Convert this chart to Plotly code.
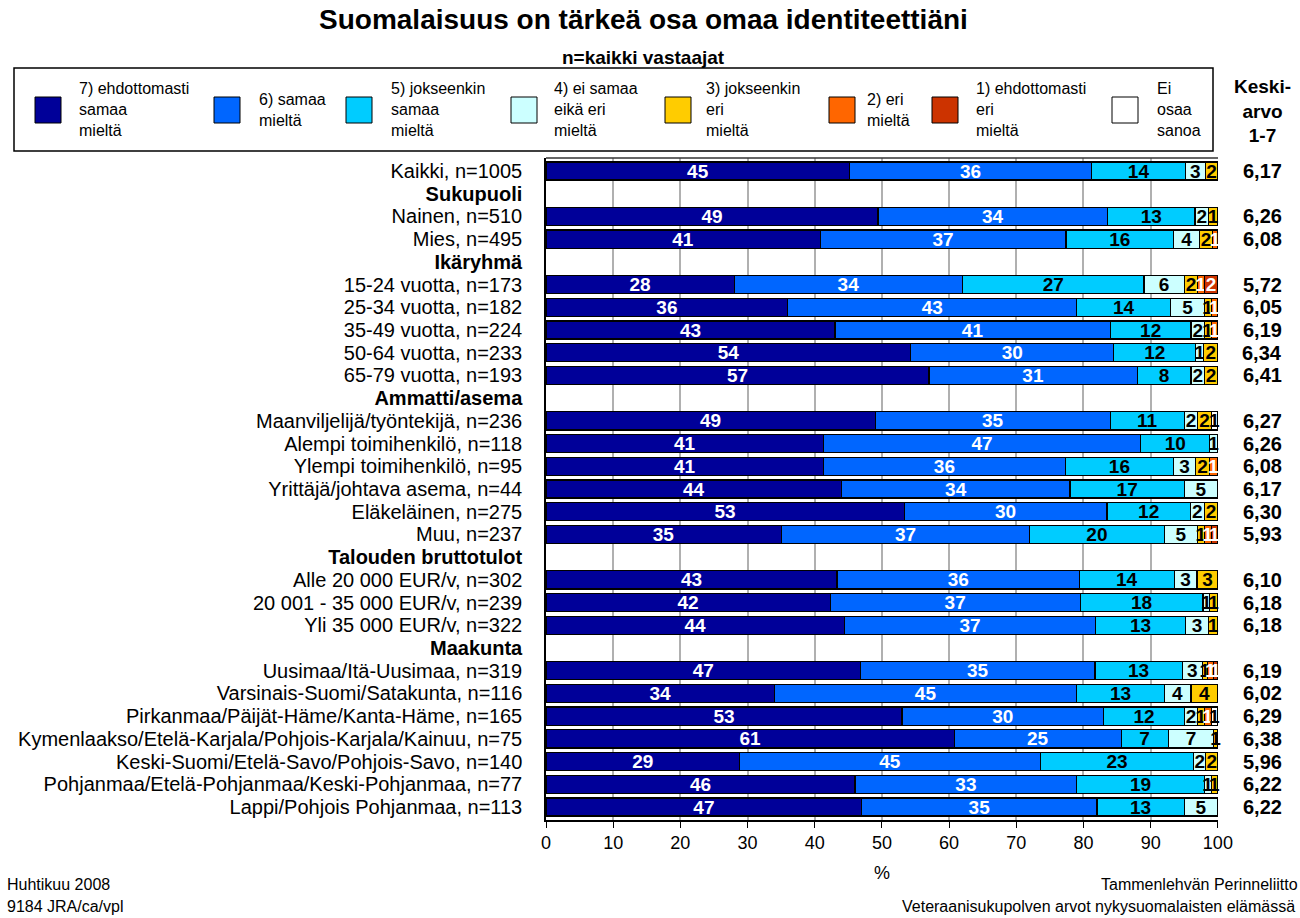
import plotly.graph_objects as go

# ---------------- data ----------------
rows = [
    "Kaikki, n=1005", "<b>Sukupuoli</b>", "Nainen, n=510", "Mies, n=495",
    "<b>Ikäryhmä</b>", "15-24 vuotta, n=173", "25-34 vuotta, n=182", "35-49 vuotta, n=224",
    "50-64 vuotta, n=233", "65-79 vuotta, n=193", "<b>Ammatti/asema</b>",
    "Maanviljelijä/työntekijä, n=236", "Alempi toimihenkilö, n=118", "Ylempi toimihenkilö, n=95",
    "Yrittäjä/johtava asema, n=44", "Eläkeläinen, n=275", "Muu, n=237",
    "<b>Talouden bruttotulot</b>", "Alle 20 000 EUR/v, n=302", "20 001 - 35 000 EUR/v, n=239",
    "Yli 35 000 EUR/v, n=322", "<b>Maakunta</b>", "Uusimaa/Itä-Uusimaa, n=319",
    "Varsinais-Suomi/Satakunta, n=116", "Pirkanmaa/Päijät-Häme/Kanta-Häme, n=165",
    "Kymenlaakso/Etelä-Karjala/Pohjois-Karjala/Kainuu, n=75",
    "Keski-Suomi/Etelä-Savo/Pohjois-Savo, n=140",
    "Pohjanmaa/Etelä-Pohjanmaa/Keski-Pohjanmaa, n=77", "Lappi/Pohjois Pohjanmaa, n=113",
]

N = None
s7 = [45.2, N, 49.4, 40.8, N, 28, 36, 43, 54.3, 57, N, 49, 41.3, 41.3, 44, 53.3, 35, N, 43.3, 42.3, 44.4, N, 46.8, 34, 53, 60.8, 28.8, 46, 47]
s6 = [36.0, N, 34.2, 36.6, N, 34, 43, 41, 30.2, 31, N, 35, 47.2, 36.0, 34, 30.2, 37, N, 36.1, 37.2, 37.4, N, 34.9, 45, 30, 24.8, 44.8, 33, 35]
s5 = [14.0, N, 13.0, 16.0, N, 27, 14, 12, 12.2, 8, N, 11, 10.3, 16.1, 17, 12.4, 20, N, 14.1, 18.3, 13.4, N, 13.0, 13, 12, 7.0, 22.8, 19, 13]
s4 = [2.9, N, 2.0, 3.9, N, 6, 5, 2, 1.2, 2, N, 2, 1.2, 3.3, 5, 2.1, 5, N, 3.4, 1.0, 3.4, N, 3.0, 4, 2, 6.8, 1.8, 1, 5]
s3 = [1.9, N, 1.4, 1.9, N, 2, 1, 1, 2.1, 2, N, 2, N, 2.0, N, 2.0, 1, N, 3.1, 1.2, 1.4, N, 0.8, 4, 1, 0.6, 1.8, 1, N]
s2 = [N, N, N, 0.8, N, 1, 1, 1, N, N, N, N, N, 1.3, N, N, 1, N, N, N, N, N, 0.8, N, 1, N, N, N, N]
s1 = [N, N, N, N, N, 2, N, N, N, N, N, N, N, N, N, N, 1, N, N, N, N, N, 0.7, N, N, N, N, N, N]
s_eos = [N, N, N, N, N, N, N, N, N, N, N, 1, N, N, N, N, N, N, N, N, N, N, N, N, 1, N, N, N, N]

means = [6.17, N, 6.26, 6.08, N, 5.72, 6.05, 6.19, 6.34, 6.41, N, 6.27, 6.26, 6.08, 6.17, 6.30, 5.93, N,
         6.10, 6.18, 6.18, N, 6.19, 6.02, 6.29, 6.38, 5.96, 6.22, 6.22]

series_names = ["7) ehdottomasti<br>samaa<br>mieltä", "6) samaa<br>mieltä", "5) jokseenkin<br>samaa<br>mieltä",
                "4) ei samaa<br>eikä eri<br>mieltä", "3) jokseenkin<br>eri<br>mieltä", "2) eri<br>mieltä",
                "1) ehdottomasti<br>eri<br>mieltä", "Ei<br>osaa<br>sanoa"]
series_values = [s7, s6, s5, s4, s3, s2, s1, s_eos]
colors = ["#000099", "#0066FF", "#00CCFF", "#CCFFFF", "#FFCC00", "#FF6600", "#CC3300", "#FFFFFF"]
text_colors = ["white", "white", "black", "black", "black", "white", "white", "black"]

x_ticks = list(range(0, 101, 10))

# ---------------- layout geometry ----------------
W, H = 1300, 918
L, R, T, B = 546, 82, 158, 98
PW, PH = W - L - R, H - T - B
FONT = "Liberation Sans, Arial, sans-serif"


def px(x):
    return (x - L) / PW


def py(y):
    return (H - B - y) / PH


fig = go.Figure()
for name, vals, col, tc in zip(series_names, series_values, colors, text_colors):
    fig.add_trace(go.Bar(
        y=rows, x=vals, orientation="h", name=name,
        marker=dict(color=col, line=dict(color="#000000", width=1.2)),
        texttemplate="%{x:.0f}", textposition="inside", insidetextanchor="middle", textangle=0,
        textfont=dict(family=FONT, size=19, color=tc, weight="bold"),
        constraintext="none", cliponaxis=False, showlegend=False,
        hovertemplate="%{y}: %{x}<extra></extra>",
    ))

annotations = []
shapes = []

# title & subtitle
annotations.append(dict(text="<b>Suomalaisuus on tärkeä osa omaa identiteettiäni</b>", xref="paper", yref="paper",
                        x=px(643), y=py(19), xanchor="center", yanchor="middle", showarrow=False,
                        font=dict(family=FONT, size=28, color="black")))
annotations.append(dict(text="<b>n=kaikki vastaajat</b>", xref="paper", yref="paper",
                        x=px(643), y=py(57), xanchor="center", yanchor="middle", showarrow=False,
                        font=dict(family=FONT, size=19, color="black")))

# manual legend
shapes.append(dict(type="rect", xref="paper", yref="paper", x0=px(14), x1=px(1213), y0=py(68), y1=py(151),
                   line=dict(color="black", width=1.5), fillcolor="white"))
sq_x = [35, 214, 346, 511, 665, 829, 932, 1112]
tx_x = [77, 257, 389, 552, 704, 865, 974, 1155]
for name, col, sx, tx in zip(series_names, colors, sq_x, tx_x):
    shapes.append(dict(type="rect", xref="paper", yref="paper", x0=px(sx), x1=px(sx + 26), y0=py(97), y1=py(123),
                       line=dict(color="black", width=1), fillcolor=col))
    annotations.append(dict(text=name, xref="paper", yref="paper", x=px(tx), y=py(110), xanchor="left",
                            yanchor="middle", align="left", showarrow=False,
                            font=dict(family=FONT, size=16, color="black")))

annotations.append(dict(text="<b>Keski-<br>arvo<br>1-7</b>", xref="paper", yref="paper", x=px(1262), y=py(111),
                        xanchor="center", yanchor="middle", showarrow=False,
                        font=dict(family=FONT, size=19, color="black")))

# means column
for r, m in zip(rows, means):
    if m is None:
        continue
    annotations.append(dict(text="<b>" + f"{m:.2f}".replace(".", ",") + "</b>", xref="paper", yref="y",
                            x=px(1262), y=r, xanchor="center", yanchor="middle", showarrow=False,
                            font=dict(family=FONT, size=20, color="black")))

# axis title
annotations.append(dict(text="%", xref="paper", yref="paper", x=0.5, y=py(873), xanchor="center",
                        yanchor="middle", showarrow=False, font=dict(family=FONT, size=18, color="black")))

# footers
foot = dict(family=FONT, size=16, color="black")
annotations += [
    dict(text="Huhtikuu 2008", xref="paper", yref="paper", x=px(5), y=py(884), xanchor="left", yanchor="middle",
         showarrow=False, font=foot),
    dict(text="9184 JRA/ca/vpl", xref="paper", yref="paper", x=px(5), y=py(906), xanchor="left", yanchor="middle",
         showarrow=False, font=foot),
    dict(text="Tammenlehvän Perinneliitto", xref="paper", yref="paper", x=px(1099), y=py(884), xanchor="left",
         yanchor="middle", showarrow=False, font=foot),
    dict(text="Veteraanisukupolven arvot nykysuomalaisten elämässä", xref="paper", yref="paper", x=px(900),
         y=py(906), xanchor="left", yanchor="middle", showarrow=False, font=foot),
]

# top border of plot area
shapes.append(dict(type="line", xref="paper", yref="paper", x0=0, x1=1, y0=1, y1=1,
                   line=dict(color="#333333", width=1.5)))

fig.update_layout(
    width=W, height=H, margin=dict(l=L, r=R, t=T, b=B),
    barmode="stack", bargap=0.2,
    plot_bgcolor="white", paper_bgcolor="white",
    font=dict(family=FONT, size=18, color="black"),
    uniformtext=dict(minsize=19, mode="show"),
    annotations=annotations, shapes=shapes,
    xaxis=dict(range=[0, 100.02], tickmode="array", tickvals=x_ticks, ticks="outside", ticklen=6,
               tickcolor="black", showline=True, linecolor="black", linewidth=1.5, showgrid=True,
               gridcolor="#B0B0B0", gridwidth=1.5, zeroline=False,
               tickfont=dict(family=FONT, size=18, color="black"), fixedrange=True),
    yaxis=dict(categoryorder="array", categoryarray=rows, autorange="reversed", tickmode="array",
               tickvals=rows, ticktext=rows, showline=True, linecolor="black", linewidth=1.5, ticks="",
               ticklabelstandoff=18, tickfont=dict(family=FONT, size=20, color="black"), showgrid=False,
               fixedrange=True),
)

fig.write_html("out.html", config={"displayModeBar": False},
               post_script="document.body.style.margin='0px';")
